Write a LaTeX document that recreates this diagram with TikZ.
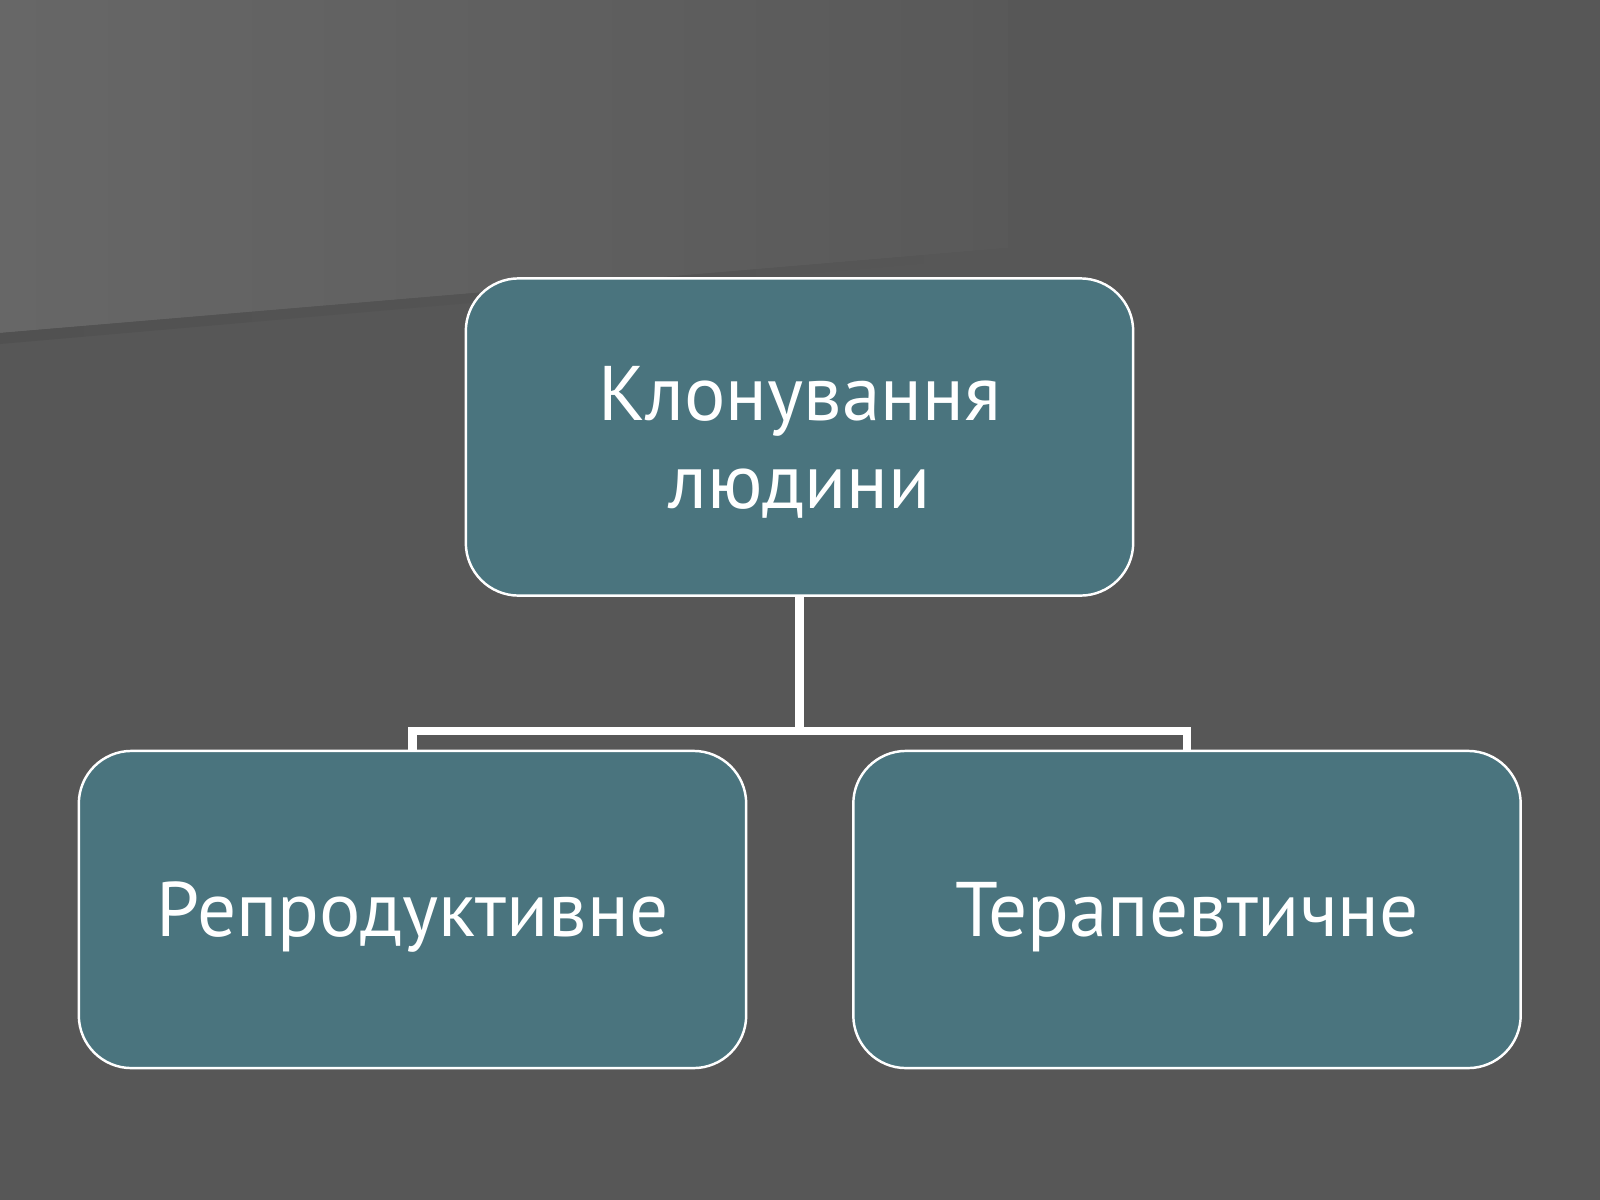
\documentclass[tikz,border=0pt]{standalone}
\usepackage{fontspec}
\setmainfont{PT Sans}
\definecolor{slidebg}{HTML}{575757}
\definecolor{lightbg}{HTML}{676767}
\definecolor{lightbgr}{HTML}{595959}
\definecolor{shadowbg}{HTML}{515151}
\definecolor{boxteal}{HTML}{4A747E}
\begin{document}
\begin{tikzpicture}[x=0.01cm,y=-0.01cm,
  every node/.style={font=\fontsize{22}{25}\selectfont},
  kind/.style={draw=white,line width=0.7pt,fill=boxteal,text=white,rounded corners=15pt,
    minimum width=6.67cm,minimum height=3.17cm,align=center,text depth=0pt},
  conn/.style={draw=white,line width=2.3pt}]
\useasboundingbox (0,0) rectangle (1600,1200);
% slide background
\fill[slidebg] (0,0) rectangle (1600,1200);
\shade[left color=lightbg,right color=lightbgr] (0,0) -- (1008,0) -- (1008,248) -- (0,333) -- cycle;
\shade[left color=shadowbg,right color=slidebg] (0,333) -- (1008,248) -- (1008,256) -- (0,344) -- cycle;
% boxes
\node[kind] (top) at (799.5,437) {Клонування\\людини};
\node[kind] (lft) at (412.5,909.5) {Репродуктивне};
\node[kind] (rgt) at (1187,909.5) {Терапевтичне};
% tree lines
\coordinate (bus) at (799.5,731);
\draw[conn] (top.south) -- (bus) -| (lft.north);
\draw[conn] (bus) -| (rgt.north);
\end{tikzpicture}
\end{document}
